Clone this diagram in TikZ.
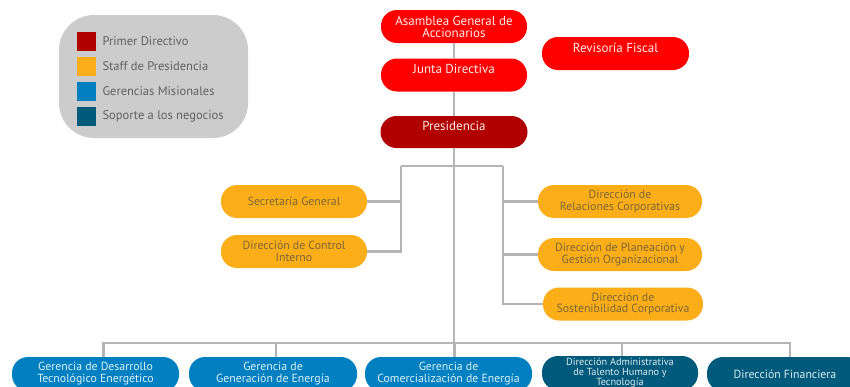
\documentclass[tikz,border=0pt]{standalone}
\usepackage{fontspec}
\setmainfont{PT Sans}
\definecolor{primerdir}{HTML}{B00000}
\definecolor{rojo}{HTML}{FF0000}
\definecolor{staff}{HTML}{FBAE17}
\definecolor{misional}{HTML}{0080C0}
\definecolor{soporte}{HTML}{005A7C}
\definecolor{linea}{HTML}{B4B4B4}
\definecolor{leyenda}{HTML}{CCCCCC}
\definecolor{textostaff}{HTML}{7A6638}
\tikzset{
  caja/.style={rounded corners=16pt, minimum height=33pt, align=center, inner sep=2pt},
  roja/.style={caja, fill=rojo, text=red!8, minimum width=146pt, font=\fontsize{13}{12}\selectfont},
  arriba/.style={text depth=12pt},
  staffbox/.style={caja, fill=staff, text=textostaff, font=\fontsize{11.8}{11.5}\selectfont},
  misionbox/.style={caja, fill=misional, text=white!88!misional, minimum width=167pt, minimum height=34pt, font=\fontsize{11.8}{12}\selectfont},
  soportebox/.style={caja, fill=soporte, text=white!88!soporte, minimum height=34pt, font=\fontsize{11.8}{12}\selectfont},
  conector/.style={draw=linea, line width=2.7pt},
  muestra/.style={minimum size=19pt, inner sep=0pt},
  etiqueta/.style={anchor=west, text=black!62, font=\fontsize{12.5}{12}\selectfont}
}
\begin{document}
\begin{tikzpicture}[x=1pt, y=-1pt]
  \useasboundingbox (0,0) rectangle (850,386);
  % leyenda
  \fill[leyenda, rounded corners=35pt] (59,15) rectangle (248,138);
  \node[muestra, fill=primerdir] (m1) at (86.5,41.5) {};
  \node[muestra, fill=staff] (m2) at (86.5,66.5) {};
  \node[muestra, fill=misional] (m3) at (86.5,91.5) {};
  \node[muestra, fill=soporte] (m4) at (86.5,116.5) {};
  \node[etiqueta] (e1) at (99,41.5) {Primer Directivo};
  \node[etiqueta] (e2) at (99,66.5) {Staff de Presidencia};
  \node[etiqueta] (e3) at (99,91.5) {Gerencias Misionales};
  \node[etiqueta] (e4) at (99,116.5) {Soporte a los negocios};
  % primer nivel
  \node[roja] (asamblea) at (454,26.5) {Asamblea General de\\Accionarios};
  \node[roja, arriba] (junta) at (454,75) {Junta Directiva};
  \node[roja, arriba, minimum width=147pt] (revisoria) at (615.5,53.5) {Revisoría Fiscal};
  \node[roja, arriba, fill=primerdir, minimum width=147pt, minimum height=32pt] (presidencia) at (454,132) {Presidencia};
  % staff
  \node[staffbox, minimum width=146pt] (secretaria) at (294,201.5) {Secretaría General};
  \node[staffbox, minimum width=146pt] (control) at (294,251.5) {Dirección de Control\\Interno};
  \node[staffbox, minimum width=164pt] (relaciones) at (620,201.5) {Dirección de\\Relaciones Corporativas};
  \node[staffbox, minimum width=164pt] (planeacion) at (620,254.5) {Dirección de Planeación y\\Gestión Organizacional};
  \node[staffbox, minimum width=160pt] (sostenibilidad) at (623,304) {Dirección de\\Sostenibilidad Corporativa};
  % gerencias y soporte
  \node[misionbox] (desarrollo) at (95.5,374) {Gerencia de Desarrollo\\Tecnológico Energético};
  \node[misionbox, minimum width=168pt] (generacion) at (273,374) {Gerencia de\\Generación de Energía};
  \node[misionbox] (comercializacion) at (448.5,374) {Gerencia de\\Comercialización de Energía};
  \node[soportebox, minimum width=156pt, font=\fontsize{10.3}{9.3}\selectfont] (talento) at (620,373) {Dirección Administrativa\\de Talento Humano y\\Tecnología};
  \node[soportebox, minimum width=156pt] (financiera) at (785,374) {Dirección Financiera};
  % conectores
  \coordinate (izq) at (401,166);
  \coordinate (der) at (503,166);
  \coordinate (bus) at (454,343);
  \draw[conector] (asamblea) -- (junta);
  \draw[conector] (junta) -- (presidencia);
  \draw[conector] (presidencia.south) -- (presidencia.south |- bus);
  \draw[conector] (izq) -- (der);
  \draw[conector] (izq) |- (control.east);
  \draw[conector] (secretaria.east) -- (secretaria.east -| izq);
  \draw[conector] (der) |- (sostenibilidad.west);
  \draw[conector] (relaciones.west) -- (relaciones.west -| der);
  \draw[conector] (planeacion.west) -- (planeacion.west -| der);
  \draw[conector] ([xshift=8pt]desarrollo.north) |- ([xshift=5pt]financiera.north |- bus) -- ([xshift=5pt]financiera.north);
  \draw[conector] ([xshift=3pt]generacion.north) -- ([xshift=3pt]generacion.north |- bus);
  \draw[conector] ([xshift=6pt]comercializacion.north) -- ([xshift=6pt]comercializacion.north |- bus);
  \draw[conector] ([xshift=2pt]talento.north) -- ([xshift=2pt]talento.north |- bus);
\end{tikzpicture}
\end{document}
